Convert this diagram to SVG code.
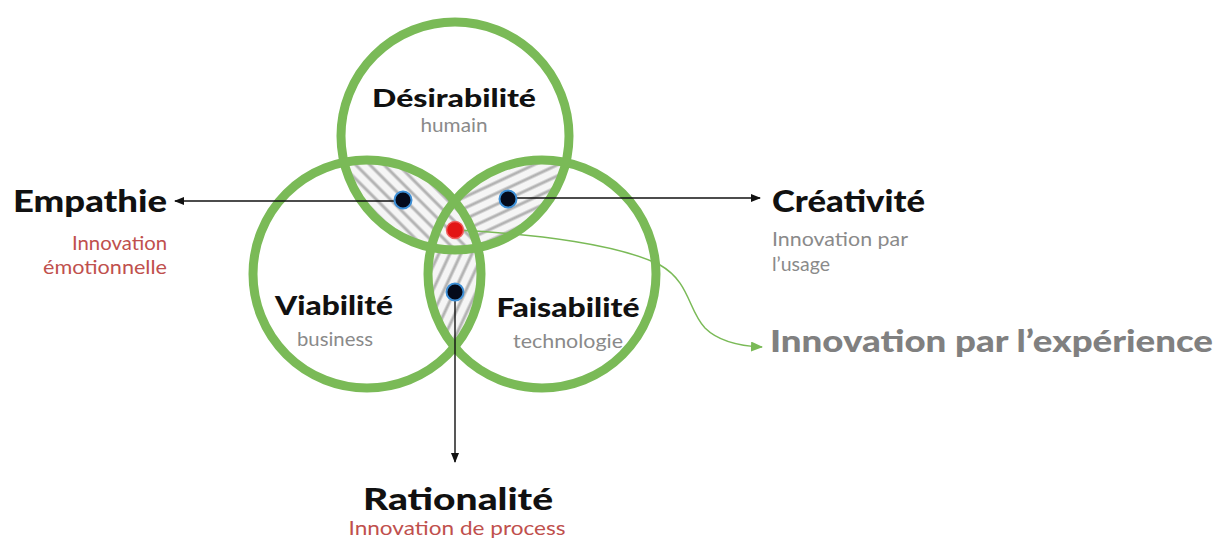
<svg xmlns="http://www.w3.org/2000/svg" width="1226" height="550" viewBox="0 0 1226 550">
<style>
.ring{fill:none;stroke:#7aba57;stroke-width:9}
.big{font-family:Lato,"Liberation Sans",sans-serif;font-weight:900;fill:#111}
.sub{font-family:Lato,"Liberation Sans",sans-serif;fill:#8a8a8a}
.red{font-family:Lato,"Liberation Sans",sans-serif;fill:#c0504d}
.conn{stroke:#111;stroke-width:1.4;fill:none}
.dot{fill:#050a1a;stroke:#3d8fd6;stroke-width:2}
</style>
<defs>
<pattern id="hatch" width="10" height="10" patternUnits="userSpaceOnUse">
<rect width="10" height="10" fill="#f5f5f5"/>
<line x1="0" y1="5" x2="10" y2="5" stroke="#b3b3b3" stroke-width="3"/>
</pattern>
<pattern id="hTL" href="#hatch" patternTransform="rotate(45)"/>
<pattern id="hTR" href="#hatch" patternTransform="rotate(-25)"/>
<pattern id="hB" href="#hatch" patternTransform="rotate(-65)"/>
<clipPath id="cT"><circle cx="455" cy="136" r="114"/></clipPath>
<clipPath id="cL"><circle cx="367" cy="274" r="114"/></clipPath>
<clipPath id="cR"><circle cx="542" cy="274" r="114"/></clipPath>
<mask id="noL"><rect width="1226" height="550" fill="#fff"/><circle cx="367" cy="274" r="114" fill="#000"/></mask>
<mask id="noT"><rect width="1226" height="550" fill="#fff"/><circle cx="455" cy="136" r="114" fill="#000"/></mask>
<marker id="ah" markerWidth="10" markerHeight="8" refX="9" refY="4" orient="auto" markerUnits="userSpaceOnUse">
<path d="M0,0 L10,4 L0,8 Z" fill="#111"/>
</marker>
<marker id="ahg" markerWidth="12" markerHeight="10" refX="11" refY="5" orient="auto" markerUnits="userSpaceOnUse">
<path d="M0,0 L12,5 L0,10 Z" fill="#7aba57"/>
</marker>
</defs>
<rect width="1226" height="550" fill="#fff"/>

<g id="hatching">
<g clip-path="url(#cT)"><rect x="200" y="0" width="500" height="450" fill="url(#hTL)" clip-path="url(#cL)"/></g>
<g clip-path="url(#cT)"><g mask="url(#noL)"><rect x="200" y="0" width="500" height="450" fill="url(#hTR)" clip-path="url(#cR)"/></g></g>
<g clip-path="url(#cL)"><g mask="url(#noT)"><rect x="200" y="0" width="500" height="450" fill="url(#hB)" clip-path="url(#cR)"/></g></g>
</g>

<g id="desirabilite">
<circle class="ring" cx="455" cy="136" r="114"/>
<text class="big" x="454" y="107" font-size="25" text-anchor="middle" textLength="164" lengthAdjust="spacingAndGlyphs">Désirabilité</text>
<text class="sub" x="454" y="132" font-size="19" text-anchor="middle" textLength="67" lengthAdjust="spacingAndGlyphs">humain</text>
</g>
<g id="viabilite">
<circle class="ring" cx="367" cy="274" r="114"/>
<text class="big" x="334" y="315" font-size="26" text-anchor="middle" textLength="118" lengthAdjust="spacingAndGlyphs">Viabilité</text>
<text class="sub" x="335" y="346" font-size="19" text-anchor="middle" textLength="76" lengthAdjust="spacingAndGlyphs">business</text>
</g>
<g id="faisabilite">
<circle class="ring" cx="542" cy="274" r="114"/>
<text class="big" x="568" y="317" font-size="26" text-anchor="middle" textLength="143" lengthAdjust="spacingAndGlyphs">Faisabilité</text>
<text class="sub" x="568" y="348" font-size="19" text-anchor="middle" textLength="110" lengthAdjust="spacingAndGlyphs">technologie</text>
</g>

<g id="connectors">
<line class="conn" x1="403" y1="201" x2="175" y2="201" marker-end="url(#ah)"/>
<line class="conn" x1="508" y1="198" x2="760" y2="198" marker-end="url(#ah)"/>
<line class="conn" x1="455" y1="292" x2="455" y2="462" marker-end="url(#ah)"/>
<path d="M455,230 C540,234 620,245 660,265 C690,282 688,310 705,328 C718,341 738,346 762,347" fill="none" stroke="#7aba57" stroke-width="1.5" marker-end="url(#ahg)"/>
</g>

<g id="dots">
<circle class="dot" cx="403" cy="200" r="8.5"/>
<circle class="dot" cx="508" cy="199" r="8.5"/>
<circle class="dot" cx="455" cy="292" r="8.5"/>
<circle cx="455" cy="230" r="8.5" fill="#e31515" stroke="#f06060" stroke-width="1.5"/>
</g>

<g id="empathie">
<text class="big" x="13" y="212" font-size="31" textLength="154" lengthAdjust="spacingAndGlyphs">Empathie</text>
<text class="red" x="167" y="250" font-size="19" text-anchor="end" textLength="95" lengthAdjust="spacingAndGlyphs">Innovation</text>
<text class="red" x="167" y="274" font-size="19" text-anchor="end" textLength="124" lengthAdjust="spacingAndGlyphs">émotionnelle</text>
</g>
<g id="creativite">
<text class="big" x="772" y="212" font-size="31" textLength="153" lengthAdjust="spacingAndGlyphs">Créativité</text>
<text class="sub" x="772" y="246" font-size="19" textLength="136" lengthAdjust="spacingAndGlyphs">Innovation par</text>
<text class="sub" x="772" y="271" font-size="19" textLength="58" lengthAdjust="spacingAndGlyphs">l’usage</text>
</g>
<g id="rationalite">
<text class="big" x="458" y="510" font-size="31" text-anchor="middle" textLength="190" lengthAdjust="spacingAndGlyphs">Rationalité</text>
<text class="red" x="457" y="535" font-size="19" text-anchor="middle" textLength="217" lengthAdjust="spacingAndGlyphs">Innovation de process</text>
</g>
<g id="experience">
<text x="770" y="352" font-family="Lato,'Liberation Sans',sans-serif" font-weight="900" font-size="30" fill="#808080" textLength="443" lengthAdjust="spacingAndGlyphs">Innovation par l’expérience</text>
</g>
</svg>
